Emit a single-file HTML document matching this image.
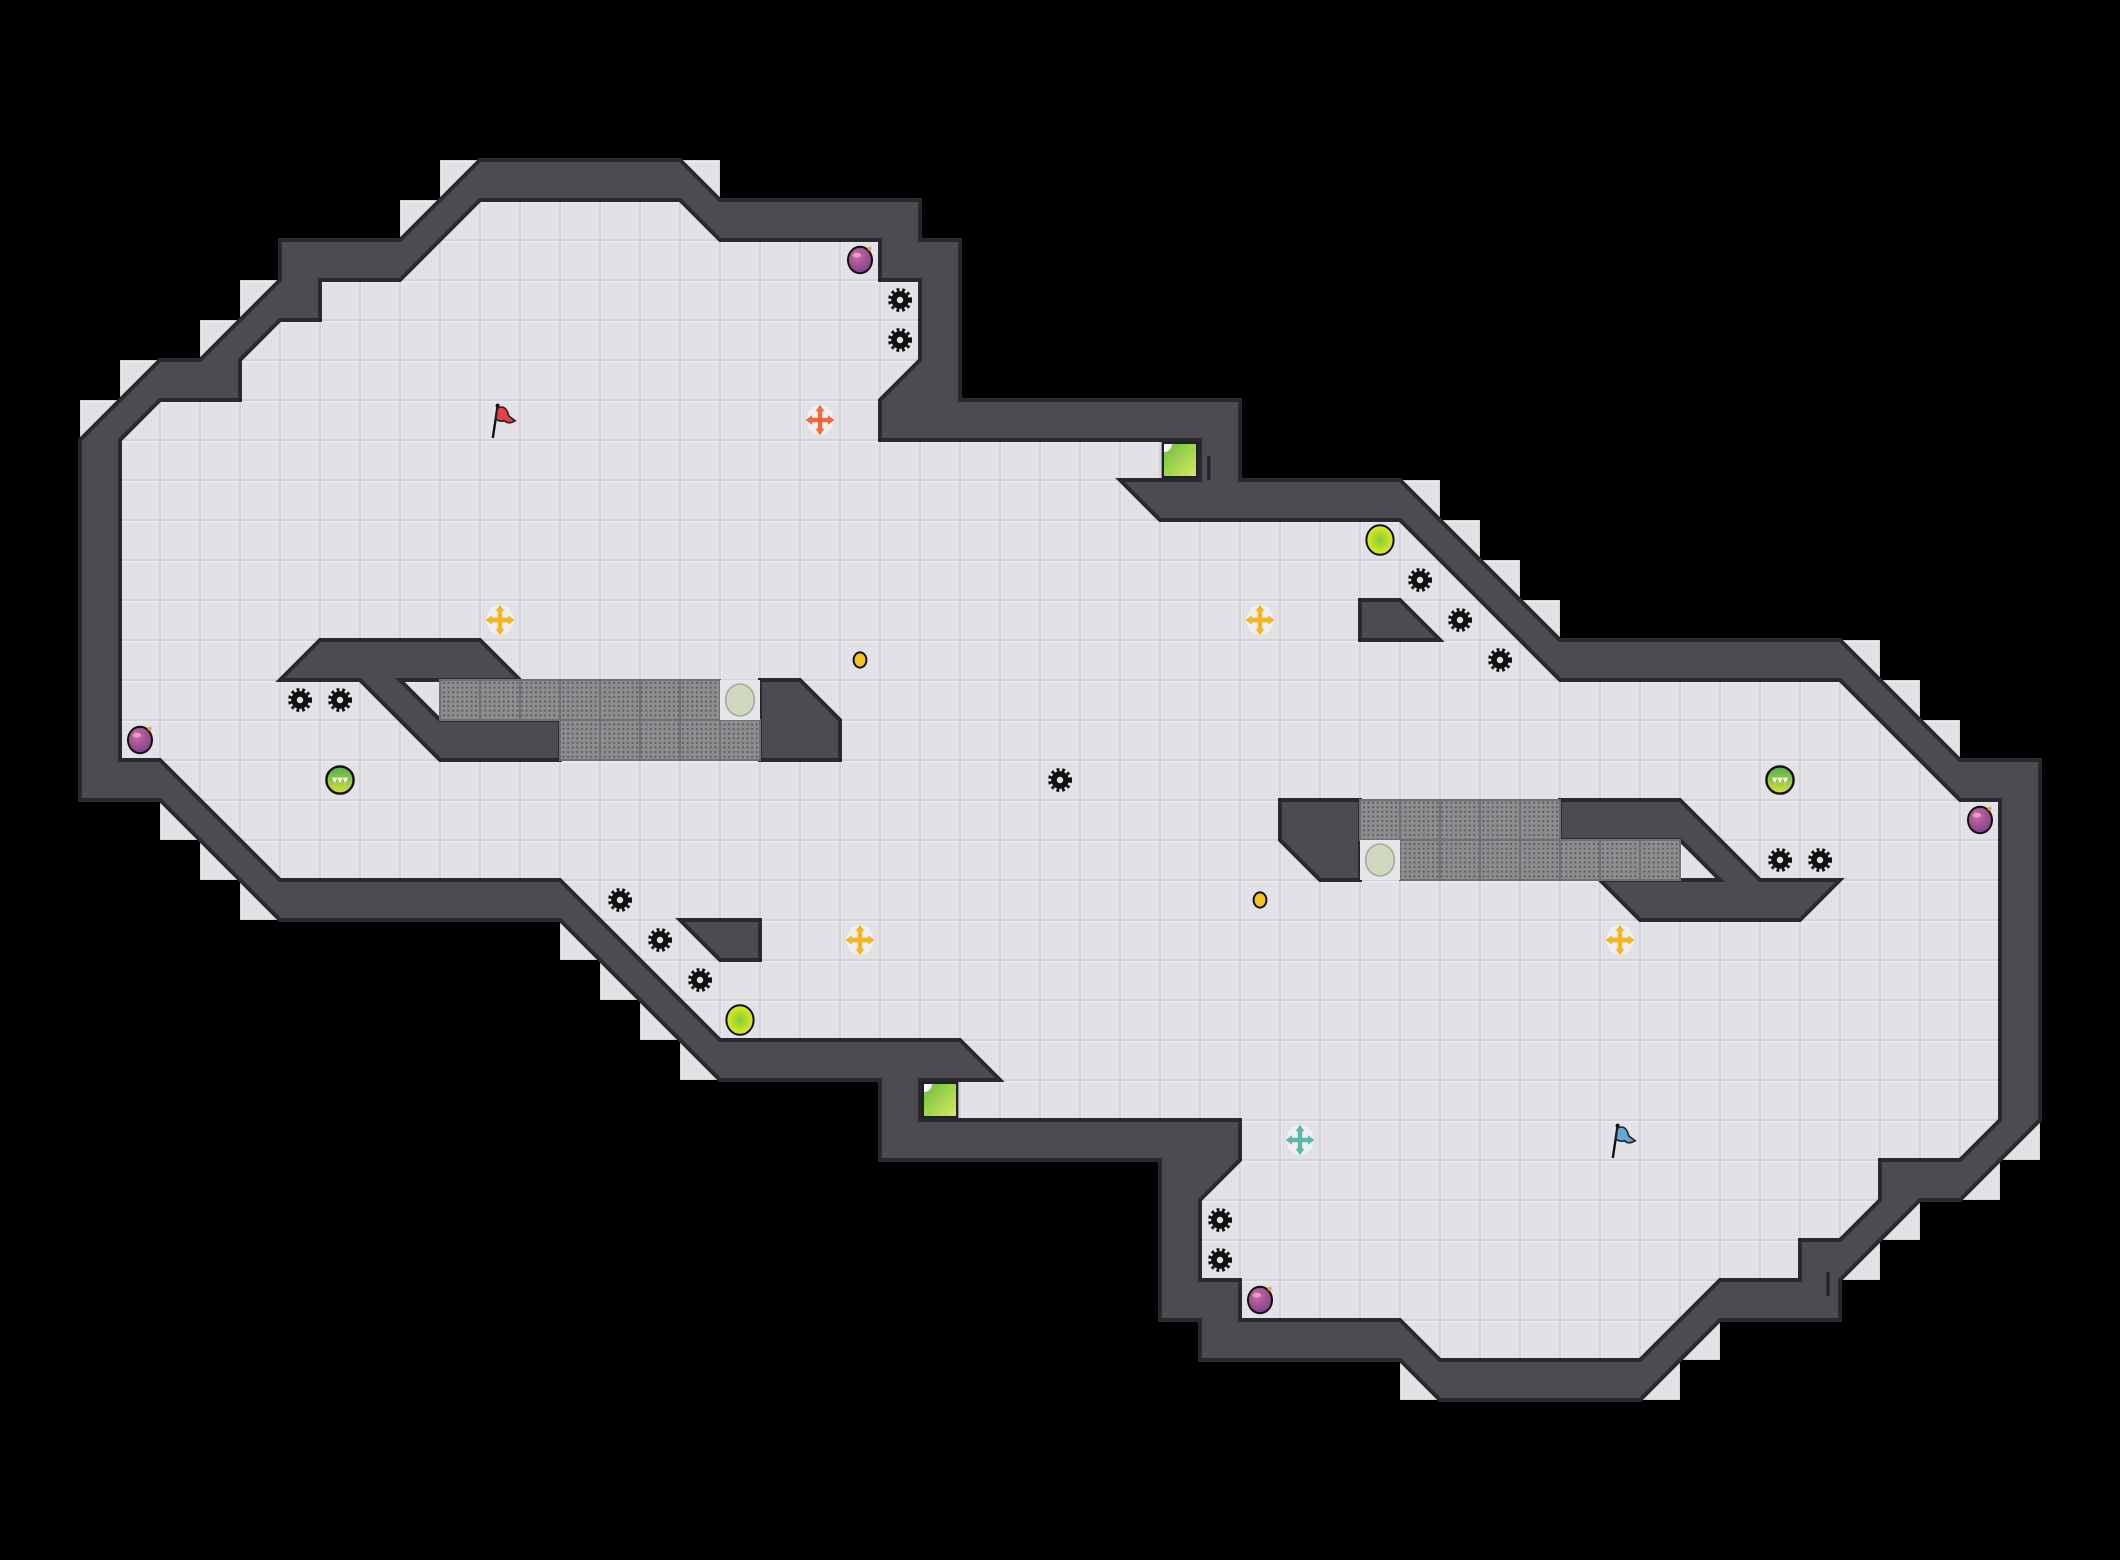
<!DOCTYPE html>
<html><head><meta charset="utf-8"><style>
html,body{margin:0;padding:0;background:#000;}
svg{display:block;}
</style></head><body>
<svg width="2120" height="1560" viewBox="0 0 53 39" xmlns="http://www.w3.org/2000/svg">
<defs>
<pattern id="tile" patternUnits="userSpaceOnUse" width="1" height="1">
<rect x="0" y="0" width="1" height="1" fill="#d3d3d8"/>
<rect x="0.03" y="0.03" width="0.94" height="0.94" fill="#f0f0f3"/>
<rect x="0.05" y="0.06" width="0.92" height="0.91" fill="#e2e2e6"/>
</pattern>
<pattern id="dots" patternUnits="userSpaceOnUse" width="0.115" height="0.115">
<rect width="0.115" height="0.115" fill="#8e8e90"/>
<circle cx="0.057" cy="0.057" r="0.028" fill="#5e5e62"/>
</pattern>
<radialGradient id="bomb" cx="0.4" cy="0.35" r="0.7">
<stop offset="0" stop-color="#d06aa0"/><stop offset="1" stop-color="#7a3f8a"/>
</radialGradient>
<radialGradient id="lime" cx="0.5" cy="0.5" r="0.5">
<stop offset="0" stop-color="#7fcf3a"/><stop offset="1" stop-color="#e4ea1c"/>
</radialGradient>
<linearGradient id="port" x1="0" y1="0" x2="1" y2="1">
<stop offset="0" stop-color="#6cbf45"/><stop offset="1" stop-color="#d6e85a"/>
</linearGradient>
<linearGradient id="teeth" x1="0" y1="0" x2="0" y2="1">
<stop offset="0" stop-color="#4caf50"/><stop offset="1" stop-color="#d8e03a"/>
</linearGradient>
<g id="gear">
<circle r="0.25" fill="none" stroke="#111" stroke-width="0.1" stroke-dasharray="0.068 0.068"/>
<circle r="0.22" fill="#111"/>
<circle r="0.08" fill="#e2e2e6"/>
</g>
<g id="bombg">
<ellipse rx="0.3" ry="0.33" fill="url(#bomb)" stroke="#111" stroke-width="0.05"/>
<ellipse cx="-0.08" cy="-0.12" rx="0.1" ry="0.06" fill="#f3b9d6" opacity="0.7"/>
<circle cx="0.24" cy="-0.28" r="0.05" fill="#f0a030"/>
</g>
<g id="cross">
<ellipse rx="0.34" ry="0.38" fill="#f2f2f2" stroke="none" opacity="0.8"/>
<path d="M-0.24,0 H0.24 M0,-0.26 V0.26" stroke="currentColor" stroke-width="0.11" fill="none"/>
<path d="M-0.36,0 L-0.2,-0.12 L-0.2,0.12 Z M0.36,0 L0.2,-0.12 L0.2,0.12 Z M0,-0.38 L-0.11,-0.22 L0.11,-0.22 Z M0,0.38 L-0.11,0.22 L0.11,0.22 Z" fill="currentColor" stroke="none"/>
</g>
<g id="green">
<ellipse rx="0.34" ry="0.37" fill="url(#lime)" stroke="#111" stroke-width="0.05"/>
</g>
<g id="tdot">
<ellipse rx="0.34" ry="0.34" fill="url(#teeth)" stroke="#111" stroke-width="0.06"/>
<path d="M-0.2,-0.06 L-0.13,0.08 L-0.07,-0.06 L0,0.08 L0.07,-0.06 L0.13,0.08 L0.2,-0.06 Z" fill="#fff" stroke="none"/>
</g>
<g id="coin">
<ellipse rx="0.16" ry="0.19" fill="#f7c21b" stroke="#111" stroke-width="0.05"/>
</g>
<g id="lcirc">
<rect x="-0.5" y="-0.5" width="1" height="1" fill="#e6e6ea"/>
<ellipse rx="0.36" ry="0.4" fill="#cfd8bd" stroke="#a8aaa0" stroke-width="0.04"/>
</g>
<g id="portal">
<rect x="0.04" y="0.04" width="0.92" height="0.92" fill="#222"/>
<rect x="0.1" y="0.1" width="0.8" height="0.8" fill="url(#port)"/>
<path d="M0.1,0.1 H0.3 A0.2,0.2 0 0 1 0.1,0.3 Z" fill="#fff"/>
</g>
</defs>

<rect width="53" height="39" fill="#000"/>

<g fill="url(#tile)">
<rect x="17" y="4" width="1" height="1"/><rect x="35" y="12" width="1" height="1"/><rect x="36" y="13" width="1" height="1"/><rect x="37" y="14" width="1" height="1"/><rect x="38" y="15" width="1" height="1"/>
<rect x="46" y="16" width="1" height="1"/><rect x="47" y="17" width="1" height="1"/><rect x="48" y="18" width="1" height="1"/>
<rect x="50" y="28" width="1" height="1"/><rect x="49" y="29" width="1" height="1"/><rect x="47" y="30" width="1" height="1"/><rect x="46" y="31" width="1" height="1"/>
<rect x="42" y="33" width="1" height="1"/><rect x="41" y="34" width="1" height="1"/><rect x="35" y="34" width="1" height="1"/>
<rect x="17" y="26" width="1" height="1"/><rect x="16" y="25" width="1" height="1"/><rect x="15" y="24" width="1" height="1"/><rect x="14" y="23" width="1" height="1"/>
<rect x="6" y="22" width="1" height="1"/><rect x="5" y="21" width="1" height="1"/><rect x="4" y="20" width="1" height="1"/>
<rect x="2" y="10" width="1" height="1"/><rect x="3" y="9" width="1" height="1"/><rect x="5" y="8" width="1" height="1"/><rect x="6" y="7" width="1" height="1"/>
<rect x="10" y="5" width="1" height="1"/><rect x="11" y="4" width="1" height="1"/>
</g>

<path d="M12,4 L17,4 L18,5 L23,5 L23,6 L24,6 L24,10 L31,10 L31,12 L35,12 L39,16 L46,16 L49,19 L51,19 L51,28 L49,30 L48,30 L46,32 L46,33 L43,33 L41,35 L36,35 L35,34 L30,34 L30,33 L29,33 L29,29 L22,29 L22,27 L18,27 L14,23 L7,23 L4,20 L2,20 L2,11 L4,9 L5,9 L7,7 L7,6 L10,6 Z" fill="#4b4b51" stroke="#2a2a2e" stroke-width="0.1" stroke-linejoin="miter"/>

<path d="M12,5 L17,5 L18,6 L22,6 L22,7 L23,7 L23,9 L22,10 L22,11 L30,11 L30,12 L28,12 L29,13 L35,13 L39,17 L46,17 L49,20 L50,20 L50,28 L49,29 L47,29 L47,30 L46,31 L45,31 L45,32 L43,32 L41,34 L36,34 L35,33 L31,33 L31,32 L30,32 L30,30 L31,29 L31,28 L23,28 L23,27 L25,27 L24,26 L18,26 L14,22 L7,22 L4,19 L3,19 L3,11 L4,10 L6,10 L6,9 L7,8 L8,8 L8,7 L10,7 Z" fill="url(#tile)" stroke="#2a2a2e" stroke-width="0.1"/>

<g fill="#4b4b51" stroke="#2a2a2e" stroke-width="0.1">
<path d="M7,17 L8,16 L12,16 L13,17 L10,17 L11,18 L14,18 L14,19 L11,19 L9,17 Z"/>
<path d="M19,17 L20,17 L21,18 L21,19 L19,19 Z"/>
<path d="M32,20 L34,20 L34,22 L33,22 L32,21 Z"/>
<path d="M39,20 L42,20 L44,22 L46,22 L45,23 L41,23 L40,22 L43,22 L42,21 L39,21 Z"/>
<path d="M34,15 L35,15 L36,16 L34,16 Z"/>
<path d="M17,23 L19,23 L19,24 L18,24 Z"/>
</g>
<rect x="30.18" y="11.4" width="0.08" height="0.6" fill="#222"/>
<rect x="45.66" y="31.8" width="0.08" height="0.6" fill="#222"/>

<g fill="url(#dots)" stroke="#707074" stroke-width="0.05">
<rect x="11" y="17" width="1" height="1"/><rect x="12" y="17" width="1" height="1"/><rect x="13" y="17" width="1" height="1"/><rect x="14" y="17" width="1" height="1"/><rect x="15" y="17" width="1" height="1"/><rect x="16" y="17" width="1" height="1"/><rect x="17" y="17" width="1" height="1"/>
<rect x="14" y="18" width="1" height="1"/><rect x="15" y="18" width="1" height="1"/><rect x="16" y="18" width="1" height="1"/><rect x="17" y="18" width="1" height="1"/><rect x="18" y="18" width="1" height="1"/>
<rect x="34" y="20" width="1" height="1"/><rect x="35" y="20" width="1" height="1"/><rect x="36" y="20" width="1" height="1"/><rect x="37" y="20" width="1" height="1"/><rect x="38" y="20" width="1" height="1"/>
<rect x="35" y="21" width="1" height="1"/><rect x="36" y="21" width="1" height="1"/><rect x="37" y="21" width="1" height="1"/><rect x="38" y="21" width="1" height="1"/><rect x="39" y="21" width="1" height="1"/><rect x="40" y="21" width="1" height="1"/><rect x="41" y="21" width="1" height="1"/>
</g>
<use href="#lcirc" x="18.5" y="17.5"/>
<use href="#lcirc" x="34.5" y="21.5"/>

<use href="#portal" x="29" y="11"/>
<use href="#portal" x="23" y="27"/>

<use href="#gear" x="22.5" y="7.5"/><use href="#gear" x="22.5" y="8.5"/>
<use href="#gear" x="7.5" y="17.5"/><use href="#gear" x="8.5" y="17.5"/>
<use href="#gear" x="26.5" y="19.5"/>
<use href="#gear" x="15.5" y="22.5"/><use href="#gear" x="16.5" y="23.5"/><use href="#gear" x="17.5" y="24.5"/>
<use href="#gear" x="35.5" y="14.5"/><use href="#gear" x="36.5" y="15.5"/><use href="#gear" x="37.5" y="16.5"/>
<use href="#gear" x="44.5" y="21.5"/><use href="#gear" x="45.5" y="21.5"/>
<use href="#gear" x="30.5" y="30.5"/><use href="#gear" x="30.5" y="31.5"/>

<use href="#bombg" x="21.5" y="6.5"/><use href="#bombg" x="3.5" y="18.5"/>
<use href="#bombg" x="49.5" y="20.5"/><use href="#bombg" x="31.5" y="32.5"/>

<use href="#green" x="34.5" y="13.5"/><use href="#green" x="18.5" y="25.5"/>
<use href="#tdot" x="8.5" y="19.5"/><use href="#tdot" x="44.5" y="19.5"/>
<use href="#coin" x="21.5" y="16.5"/><use href="#coin" x="31.5" y="22.5"/>

<g style="color:#f5b41f">
<use href="#cross" x="12.5" y="15.5"/><use href="#cross" x="31.5" y="15.5"/>
<use href="#cross" x="21.5" y="23.5"/><use href="#cross" x="40.5" y="23.5"/>
</g>
<g style="color:#f06a3c"><use href="#cross" x="20.5" y="10.5"/></g>
<g style="color:#5cb8aa"><use href="#cross" x="32.5" y="28.5"/></g>

<g transform="translate(12.5,10.5)">
<path d="M-0.18,0.45 L-0.06,-0.35" stroke="#111" stroke-width="0.06"/>
<circle cx="-0.06" cy="-0.36" r="0.05" fill="#111"/>
<path d="M-0.06,-0.3 Q0.15,-0.4 0.22,-0.1 L0.38,0.02 Q0.2,0.12 0.12,0.02 Q0.0,0.05 -0.1,-0.02 Z" fill="#e84040" stroke="#222" stroke-width="0.04"/>
</g>
<g transform="translate(40.5,28.5)">
<path d="M-0.18,0.45 L-0.06,-0.35" stroke="#111" stroke-width="0.06"/>
<circle cx="-0.06" cy="-0.36" r="0.05" fill="#111"/>
<path d="M-0.06,-0.3 Q0.15,-0.4 0.22,-0.1 L0.38,0.02 Q0.2,0.12 0.12,0.02 Q0.0,0.05 -0.1,-0.02 Z" fill="#5fa8d8" stroke="#222" stroke-width="0.04"/>
</g>
</svg>
</body></html>
